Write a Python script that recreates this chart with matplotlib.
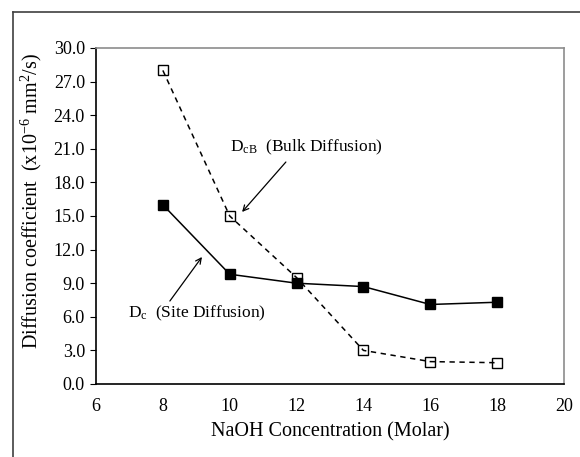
import matplotlib
matplotlib.use("Agg")
import matplotlib.pyplot as plt
from matplotlib.lines import Line2D

plt.rcParams['font.family'] = ['Liberation Serif', 'DejaVu Serif']
plt.rcParams['mathtext.fontset'] = 'custom'
plt.rcParams['mathtext.rm'] = 'Liberation Serif'
plt.rcParams['mathtext.it'] = 'Liberation Serif:italic'

# --- data ---
naoh = [8, 10, 12, 14, 16, 18]
d_site = [16.0, 9.8, 9.0, 8.7, 7.1, 7.3]   # Dc, solid line, filled squares
d_bulk = [28.0, 15.0, 9.5, 3.0, 2.0, 1.9]  # DcB, dashed line, open squares

x_ticks = [6, 8, 10, 12, 14, 16, 18, 20]
y_ticks = [0, 3, 6, 9, 12, 15, 18, 21, 24, 27, 30]

fig = plt.figure(figsize=(5.8, 4.57), dpi=100)
ax = fig.add_axes([96 / 580, 1 - 384 / 457, (564 - 96) / 580, (384 - 48) / 457])

ax.plot(naoh, d_site, color='black', linestyle='-', linewidth=1.1,
        marker='s', markersize=7.5, markerfacecolor='black', markeredgecolor='black',
        zorder=3)
ax.plot(naoh, d_bulk, color='black', linestyle=(0, (3.5, 3)), linewidth=1.1,
        marker='s', markersize=7, markerfacecolor='none', markeredgecolor='black',
        markeredgewidth=1.0, zorder=4)

ax.set_xlim(6, 20)
ax.set_ylim(0, 30)
ax.set_xticks(x_ticks)
ax.set_yticks(y_ticks)
ax.set_yticklabels([f"{v:.1f}" for v in y_ticks])
ax.tick_params(axis='both', labelsize=13, direction='out', color='black')
ax.tick_params(axis='x', length=0, pad=10)
ax.tick_params(axis='y', length=4, pad=4)

for side in ['top', 'right']:
    ax.spines[side].set_color('#8c8c8c')
    ax.spines[side].set_linewidth(1.2)
for side in ['left', 'bottom']:
    ax.spines[side].set_color('black')
    ax.spines[side].set_linewidth(1.2)

ax.set_xlabel('NaOH Concentration (Molar)', fontsize=14.5, labelpad=5)
ax.set_ylabel(r'Diffusion coefficient  (x10$^{-6}$ mm$^{2}$/s)', fontsize=14.5)
ax.yaxis.set_label_coords(-0.112, 0.545)

# labels and arrows
ax.text(10.0, 21.1, r'D$_{\mathrm{cB}}$  (Bulk Diffusion)', fontsize=12.5, ha='left', va='center')
ax.annotate('', xy=(10.37, 15.36), xytext=(11.68, 19.82),
            arrowprops=dict(arrowstyle='->', color='black', lw=0.9,
                            shrinkA=0, shrinkB=0))
ax.text(6.96, 6.3, r'D$_{\mathrm{c}}$  (Site Diffusion)', fontsize=12.5, ha='left', va='center')
ax.annotate('', xy=(9.17, 11.34), xytext=(8.21, 7.41),
            arrowprops=dict(arrowstyle='->', color='black', lw=0.9,
                            shrinkA=0, shrinkB=0))

# outer frame (top and left edges)
fig.add_artist(Line2D([13 / 580, 1], [1 - 12 / 457, 1 - 12 / 457],
                      transform=fig.transFigure, color='#404040', lw=1.2))
fig.add_artist(Line2D([13 / 580, 13 / 580], [0, 1 - 12 / 457],
                      transform=fig.transFigure, color='#404040', lw=1.2))

fig.savefig('out.png', dpi=100)
